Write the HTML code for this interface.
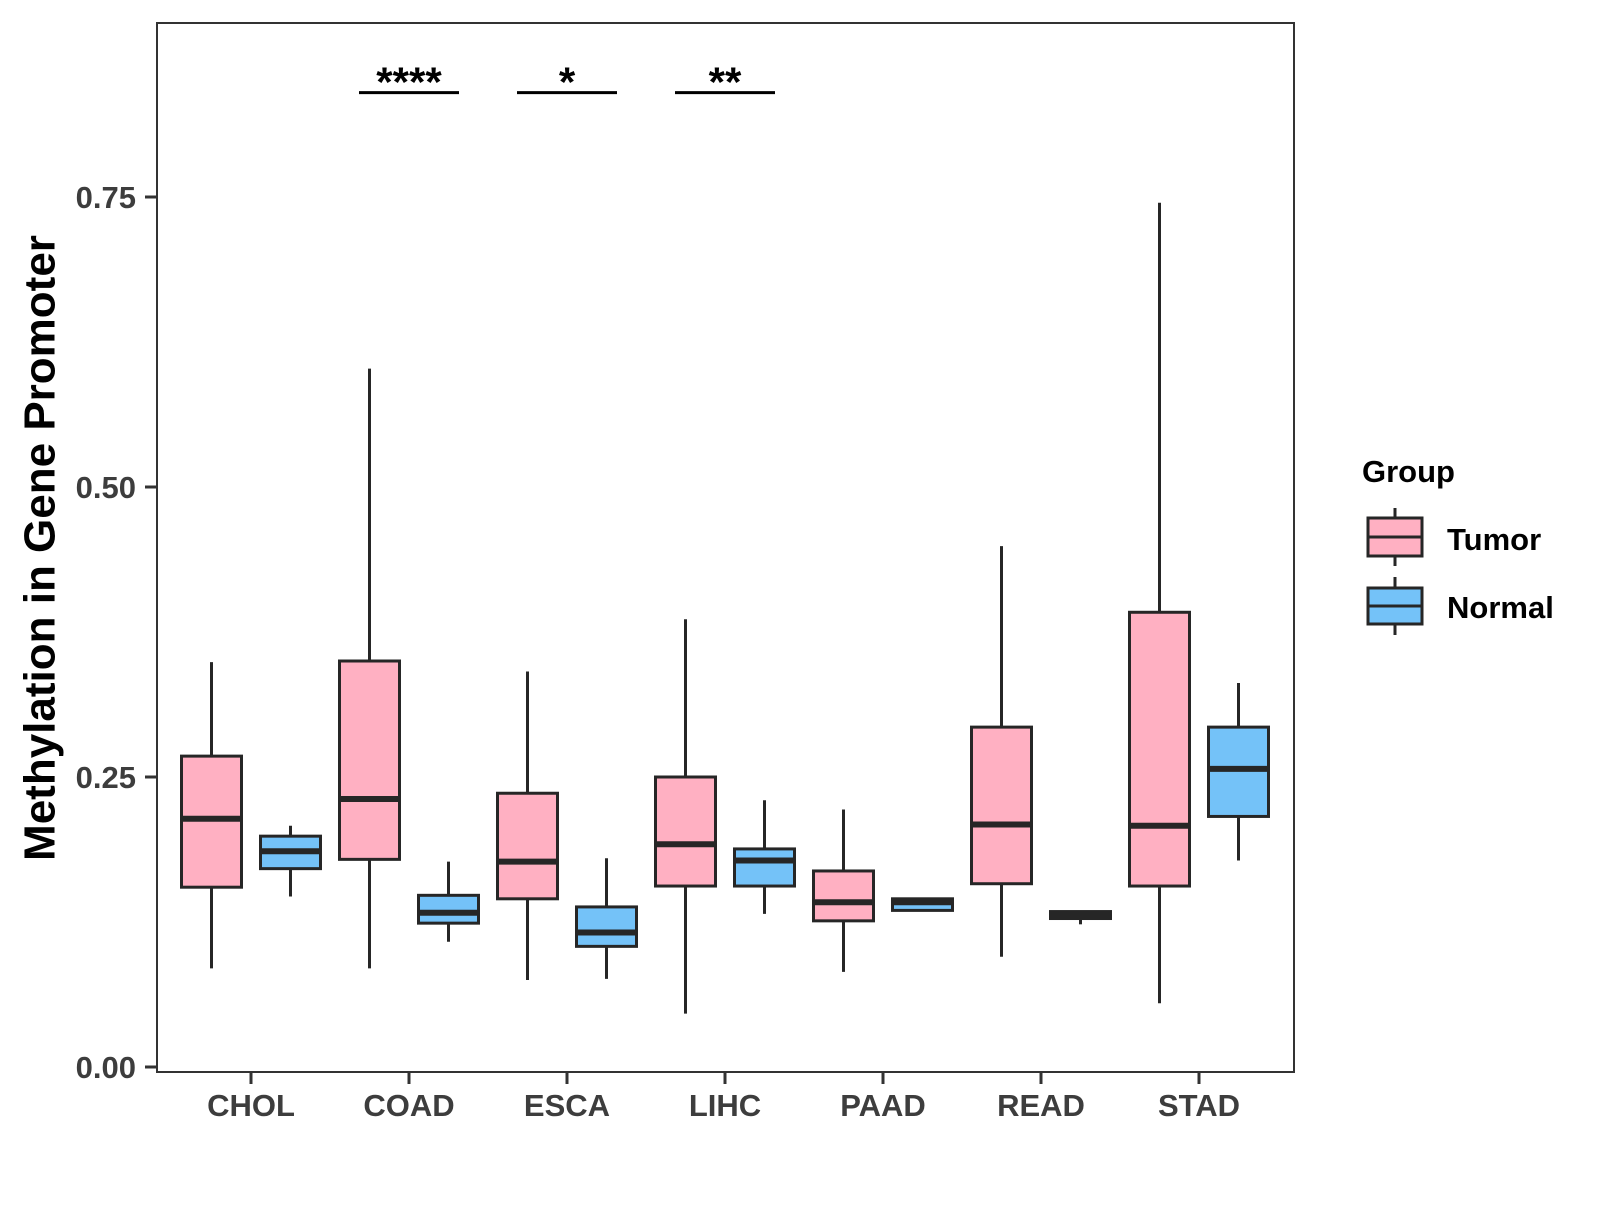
<!DOCTYPE html>
<html><head><meta charset="utf-8"><style>
body{margin:0;background:#fff;}
svg text{font-family:"Liberation Sans",Arial,sans-serif;font-weight:bold;}
</style></head><body>
<svg id="chart" width="1600" height="1200" xmlns="http://www.w3.org/2000/svg">
<rect x="157" y="23" width="1137" height="1049" fill="#fff" stroke="#333" stroke-width="2"/>
<g id="marks"></g>
<text x="40" y="548" transform="rotate(-90 40 548)" text-anchor="middle" dominant-baseline="central" font-size="44" fill="#000">Methylation in Gene Promoter</text>
<g>
<text x="1362" y="482" font-size="31" fill="#000">Group</text>
<g>
<line x1="1395" y1="508" x2="1395" y2="566" stroke="#262626" stroke-width="3"/>
<rect x="1368" y="518" width="54" height="38" fill="#FFB0C2" stroke="#262626" stroke-width="3"/>
<line x1="1368" y1="537" x2="1422" y2="537" stroke="#262626" stroke-width="3"/>
<text x="1447" y="550" font-size="31" fill="#000">Tumor</text>
</g>
<g>
<line x1="1395" y1="577" x2="1395" y2="635" stroke="#262626" stroke-width="3"/>
<rect x="1368" y="588" width="54" height="36" fill="#74C2F8" stroke="#262626" stroke-width="3"/>
<line x1="1368" y1="606" x2="1422" y2="606" stroke="#262626" stroke-width="3"/>
<text x="1447" y="618" font-size="31" fill="#000">Normal</text>
</g>
</g>
</svg>
<script>
const categories=["CHOL","COAD","ESCA","LIHC","PAAD","READ","STAD"];
// [low, q1, median, q3, high]
const tumorStats=[[0.085,0.155,0.214,0.268,0.349],[0.085,0.179,0.231,0.350,0.602],[0.075,0.145,0.177,0.236,0.341],[0.046,0.156,0.192,0.250,0.386],[0.082,0.126,0.142,0.169,0.222],[0.095,0.158,0.209,0.293,0.449],[0.055,0.156,0.208,0.392,0.745]];
const normalStats=[[0.147,0.171,0.186,0.199,0.208],[0.108,0.124,0.133,0.148,0.177],[0.076,0.104,0.116,0.138,0.180],[0.132,0.156,0.178,0.188,0.230],[0.135,0.135,0.142,0.145,0.146],[0.123,0.128,0.131,0.134,0.134],[0.178,0.216,0.257,0.293,0.331]];
const yTicks=[0,0.25,0.5,0.75];
const yTickLabels=["0.00","0.25","0.50","0.75"];
const signifCats=["COAD","ESCA","LIHC"];
const signifLabels=["****","*","**"];
const signifY=0.840;

const NS="http://www.w3.org/2000/svg";
const g=document.getElementById('marks');
function y(v){return 1067-v*1160;}
function x(c){return 251+categories.indexOf(c)*158;}
function el(t,a){const e=document.createElementNS(NS,t);for(const k in a)e.setAttribute(k,a[k]);g.appendChild(e);return e;}
yTicks.forEach((t,i)=>{
 const l=el('line',{x1:145,x2:157,y1:y(t),y2:y(t),stroke:'#333','stroke-width':3});
 
 
 const tx=el('text',{x:136,y:y(t)+11,'text-anchor':'end','font-size':31,fill:'#3d3d3d'});
 tx.textContent=yTickLabels[i];
 
 
});
categories.forEach(c=>{
 const l=el('line',{x1:x(c),x2:x(c),y1:1072,y2:1084,stroke:'#333','stroke-width':3});
 
 
 const tx=el('text',{x:x(c),y:1116,'text-anchor':'middle','font-size':31,fill:'#3d3d3d'});
 tx.textContent=c;
 
 
});
function box(cx,s,fill,name){
 const w=el('line',{x1:cx,x2:cx,y1:y(s[0]),y2:y(s[4]),stroke:'#262626','stroke-width':3});
 
 
 const r=el('rect',{x:cx-30,y:y(s[3]),width:60,height:Math.max(1,y(s[1])-y(s[3])),fill:fill,stroke:'#262626','stroke-width':3});
 
 
 const m=el('line',{x1:cx-30,x2:cx+30,y1:y(s[2]),y2:y(s[2]),stroke:'#262626','stroke-width':6});
 
 
}
categories.forEach((c,i)=>{
 box(x(c)-39.5,tumorStats[i],'#FFB0C2','tumor-'+c.toLowerCase());
 box(x(c)+39.5,normalStats[i],'#74C2F8','normal-'+c.toLowerCase());
});
signifCats.forEach((c,i)=>{
 const l=el('line',{x1:x(c)-50,x2:x(c)+50,y1:y(signifY),y2:y(signifY),stroke:'#000','stroke-width':3});
 
 
 const t=el('text',{x:x(c),y:y(signifY)+4,'text-anchor':'middle','font-size':42,fill:'#000'});
 t.textContent=signifLabels[i];
 
 
});
</script>
</body></html>
